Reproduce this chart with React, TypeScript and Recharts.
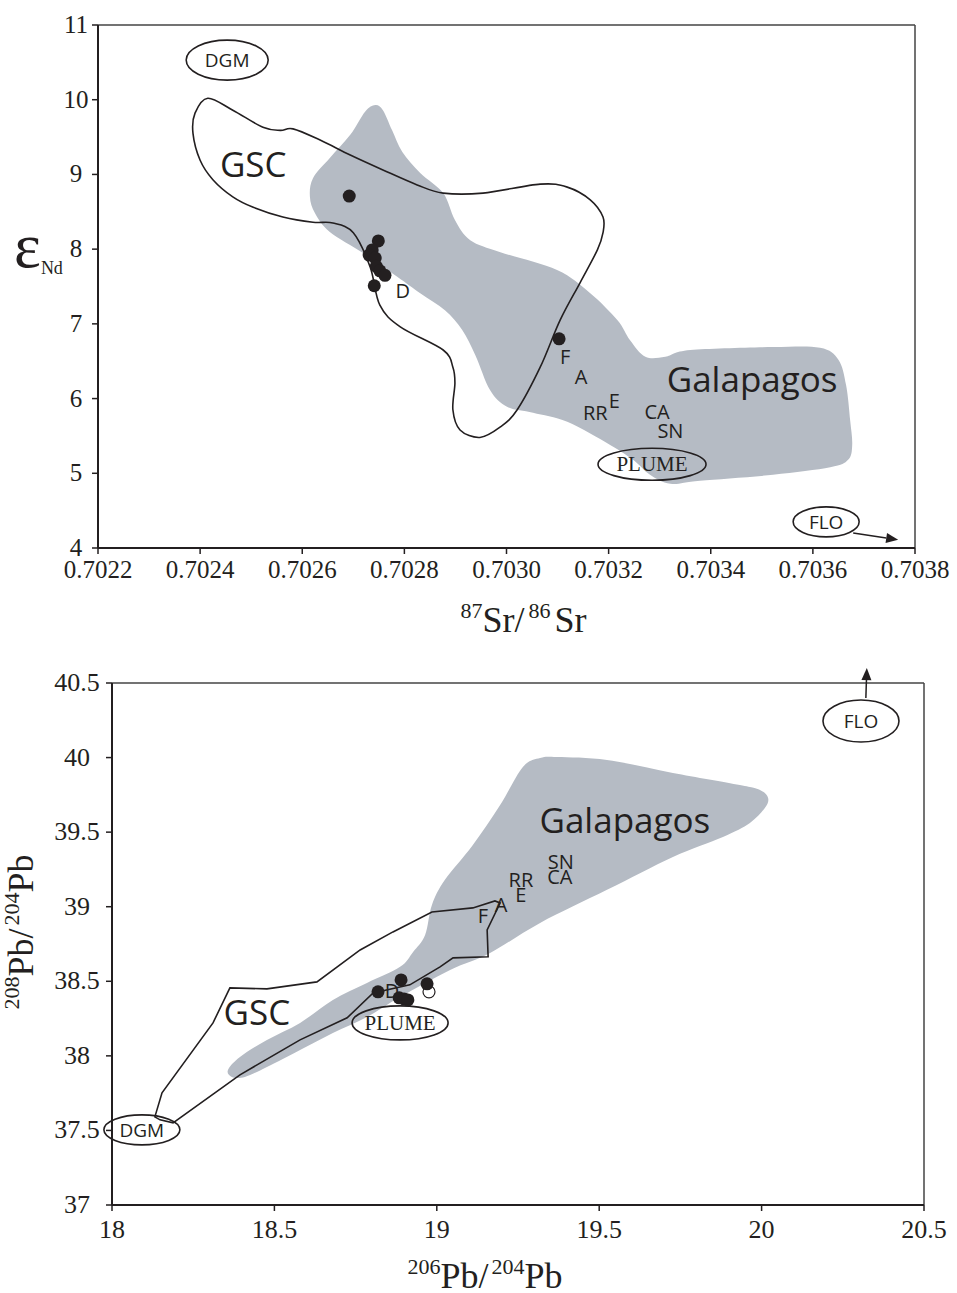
import { ReferenceLine, Scatter, ScatterChart, XAxis, YAxis } from 'recharts';

type Pt = { x: number; y: number };
type Tag = Pt & { text: string };

// ---------- upper panel: eNd vs 87Sr/86Sr ----------
const srTicks = [0.7022, 0.7024, 0.7026, 0.7028, 0.703, 0.7032, 0.7034, 0.7036, 0.7038];
const ndTicks = [4, 5, 6, 7, 8, 9, 10, 11];

const galapagosSrNd: Pt[] = [
  { x: 0.702743, y: 9.93 }, { x: 0.702758, y: 9.86 }, { x: 0.702776, y: 9.59 }, { x: 0.702796, y: 9.3 },
  { x: 0.702831, y: 9.02 }, { x: 0.702876, y: 8.75 }, { x: 0.702899, y: 8.39 }, { x: 0.702929, y: 8.12 },
  { x: 0.702988, y: 7.96 }, { x: 0.703099, y: 7.72 }, { x: 0.703164, y: 7.41 }, { x: 0.703217, y: 7.05 },
  { x: 0.703242, y: 6.78 }, { x: 0.703272, y: 6.56 }, { x: 0.703311, y: 6.56 }, { x: 0.70336, y: 6.65 },
  { x: 0.703522, y: 6.69 }, { x: 0.703614, y: 6.68 }, { x: 0.70365, y: 6.52 }, { x: 0.703665, y: 6.18 },
  { x: 0.703673, y: 5.71 }, { x: 0.703677, y: 5.38 }, { x: 0.703669, y: 5.18 }, { x: 0.703634, y: 5.08 },
  { x: 0.703522, y: 4.98 }, { x: 0.703379, y: 4.9 }, { x: 0.703321, y: 4.86 }, { x: 0.703281, y: 4.98 },
  { x: 0.703248, y: 5.18 }, { x: 0.703203, y: 5.38 }, { x: 0.703119, y: 5.69 }, { x: 0.703052, y: 5.81 },
  { x: 0.703001, y: 5.89 }, { x: 0.702968, y: 6.11 }, { x: 0.702939, y: 6.58 }, { x: 0.702913, y: 6.92 },
  { x: 0.70288, y: 7.18 }, { x: 0.702831, y: 7.41 }, { x: 0.702786, y: 7.63 }, { x: 0.702719, y: 7.95 },
  { x: 0.702654, y: 8.23 }, { x: 0.702625, y: 8.48 }, { x: 0.702615, y: 8.7 }, { x: 0.702621, y: 8.95 },
  { x: 0.702654, y: 9.22 }, { x: 0.702694, y: 9.53 }, { x: 0.702723, y: 9.84 },
];

const gscSrNd: Pt[] = [
  { x: 0.702415, y: 10.02 }, { x: 0.702464, y: 9.86 }, { x: 0.702523, y: 9.63 }, { x: 0.702557, y: 9.59 },
  { x: 0.702582, y: 9.61 }, { x: 0.702635, y: 9.46 }, { x: 0.702694, y: 9.26 }, { x: 0.702758, y: 9.06 },
  { x: 0.702825, y: 8.86 }, { x: 0.702876, y: 8.75 }, { x: 0.702954, y: 8.75 }, { x: 0.703066, y: 8.87 },
  { x: 0.703119, y: 8.83 }, { x: 0.703164, y: 8.66 }, { x: 0.703189, y: 8.43 }, { x: 0.703189, y: 8.22 },
  { x: 0.703178, y: 7.99 }, { x: 0.703144, y: 7.55 }, { x: 0.703105, y: 7.05 }, { x: 0.703066, y: 6.42 },
  { x: 0.703021, y: 5.85 }, { x: 0.702988, y: 5.62 }, { x: 0.702948, y: 5.48 }, { x: 0.702909, y: 5.58 },
  { x: 0.702895, y: 5.85 }, { x: 0.702899, y: 6.21 }, { x: 0.702895, y: 6.42 }, { x: 0.702876, y: 6.65 },
  { x: 0.702792, y: 6.96 }, { x: 0.702752, y: 7.25 }, { x: 0.702733, y: 7.76 }, { x: 0.7027, y: 8.22 },
  { x: 0.70266, y: 8.35 }, { x: 0.702621, y: 8.36 }, { x: 0.702562, y: 8.43 }, { x: 0.702504, y: 8.56 },
  { x: 0.702464, y: 8.7 }, { x: 0.702425, y: 8.93 }, { x: 0.7024, y: 9.19 }, { x: 0.702386, y: 9.55 },
  { x: 0.70239, y: 9.82 },
];

const samplesSrNd: Pt[] = [
  { x: 0.702692, y: 8.71 }, { x: 0.702749, y: 8.11 }, { x: 0.702737, y: 7.99 }, { x: 0.702731, y: 7.92 },
  { x: 0.702743, y: 7.88 }, { x: 0.702745, y: 7.77 }, { x: 0.702752, y: 7.71 }, { x: 0.702762, y: 7.65 },
  { x: 0.702741, y: 7.51 }, { x: 0.703103, y: 6.8 },
];

const regionNamesSrNd: Tag[] = [
  { x: 0.702504, y: 9.15, text: 'GSC' },
  { x: 0.703481, y: 6.27, text: 'Galapagos' },
];

const siteNamesSrNd: Tag[] = [
  { x: 0.702797, y: 7.45, text: 'D' },
  { x: 0.703115, y: 6.56, text: 'F' },
  { x: 0.703146, y: 6.3, text: 'A' },
  { x: 0.703174, y: 5.82, text: 'RR' },
  { x: 0.703211, y: 5.97, text: 'E' },
  { x: 0.703295, y: 5.83, text: 'CA' },
  { x: 0.703321, y: 5.57, text: 'SN' },
];

const endMembersSrNd: Tag[] = [
  { x: 0.702453, y: 10.53, text: 'DGM' },
  { x: 0.703285, y: 5.12, text: 'PLUME' },
  { x: 0.703626, y: 4.35, text: 'FLO' },
];

const floArrowSrNd: Pt[] = [{ x: 0.703679, y: 4.2 }, { x: 0.703767, y: 4.11 }];

// ---------- lower panel: 208Pb/204Pb vs 206Pb/204Pb ----------
const pb206Ticks = [18, 18.5, 19, 19.5, 20, 20.5];
const pb208Ticks = [37, 37.5, 38, 38.5, 39, 39.5, 40, 40.5];

const galapagosPb: Pt[] = [
  { x: 18.357, y: 37.906 }, { x: 18.394, y: 37.993 }, { x: 18.477, y: 38.107 }, { x: 18.579, y: 38.221 },
  { x: 18.68, y: 38.375 }, { x: 18.785, y: 38.489 }, { x: 18.887, y: 38.597 }, { x: 18.927, y: 38.697 },
  { x: 18.964, y: 38.811 }, { x: 18.985, y: 39.012 }, { x: 19.025, y: 39.18 }, { x: 19.111, y: 39.414 },
  { x: 19.195, y: 39.682 }, { x: 19.265, y: 39.937 }, { x: 19.318, y: 39.997 }, { x: 19.37, y: 40.004 },
  { x: 19.524, y: 39.984 }, { x: 19.727, y: 39.897 }, { x: 19.933, y: 39.816 }, { x: 19.995, y: 39.783 },
  { x: 20.02, y: 39.729 }, { x: 20.01, y: 39.662 }, { x: 19.964, y: 39.562 }, { x: 19.881, y: 39.468 },
  { x: 19.727, y: 39.334 }, { x: 19.524, y: 39.113 }, { x: 19.318, y: 38.891 }, { x: 19.164, y: 38.69 },
  { x: 19.041, y: 38.576 }, { x: 18.887, y: 38.395 }, { x: 18.785, y: 38.261 }, { x: 18.68, y: 38.154 },
  { x: 18.579, y: 38.04 }, { x: 18.477, y: 37.926 }, { x: 18.409, y: 37.859 }, { x: 18.369, y: 37.859 },
];

const gscPb: Pt[] = [
  { x: 18.132, y: 37.591 }, { x: 18.154, y: 37.752 }, { x: 18.311, y: 38.221 }, { x: 18.363, y: 38.456 },
  { x: 18.477, y: 38.449 }, { x: 18.631, y: 38.496 }, { x: 18.764, y: 38.71 }, { x: 18.865, y: 38.831 },
  { x: 18.985, y: 38.965 }, { x: 19.111, y: 38.992 }, { x: 19.179, y: 39.039 }, { x: 19.195, y: 39.025 },
  { x: 19.155, y: 38.845 }, { x: 19.158, y: 38.664 }, { x: 19.05, y: 38.657 }, { x: 19.01, y: 38.597 },
  { x: 18.917, y: 38.476 }, { x: 18.804, y: 38.422 }, { x: 18.724, y: 38.255 }, { x: 18.579, y: 38.107 },
  { x: 18.394, y: 37.873 }, { x: 18.188, y: 37.551 }, { x: 18.148, y: 37.571 },
];

const samplesPb: Pt[] = [
  { x: 18.819, y: 38.429 }, { x: 18.89, y: 38.509 }, { x: 18.97, y: 38.483 },
  { x: 18.884, y: 38.389 }, { x: 18.899, y: 38.382 }, { x: 18.911, y: 38.375 },
];
const openSamplesPb: Pt[] = [{ x: 18.976, y: 38.429 }];

const regionNamesPb: Tag[] = [
  { x: 18.446, y: 38.295, text: 'GSC' },
  { x: 19.579, y: 39.582, text: 'Galapagos' },
];

const siteNamesPb: Tag[] = [
  { x: 18.862, y: 38.436, text: 'D' },
  { x: 19.142, y: 38.938, text: 'F' },
  { x: 19.198, y: 39.012, text: 'A' },
  { x: 19.259, y: 39.18, text: 'RR' },
  { x: 19.259, y: 39.079, text: 'E' },
  { x: 19.379, y: 39.2, text: 'CA' },
  { x: 19.382, y: 39.3, text: 'SN' },
];

const endMembersPb: Tag[] = [
  { x: 18.092, y: 37.504, text: 'DGM' },
  { x: 18.887, y: 38.221, text: 'PLUME' },
  { x: 20.306, y: 40.245, text: 'FLO' },
];

const floArrowPb: Pt[] = [{ x: 20.321, y: 40.4 }, { x: 20.324, y: 40.6 }];

// ---------- styling ----------
const INK = '#231f20';
const GREY = '#b5bbc4';
const SERIF = "'Liberation Serif', 'Times New Roman', serif";
const SANS = "'Open Sans', 'Noto Sans', sans-serif";

const ellipseSizeTop: Record<string, [number, number]> = { DGM: [41, 20], PLUME: [54, 16], FLO: [33, 15] };
const ellipseSizeBottom: Record<string, [number, number]> = { DGM: [38, 15], PLUME: [48, 17], FLO: [38, 21] };

function closedSmooth(pts: { x: number; y: number }[]) {
  const n = pts.length;
  let d = `M${pts[0].x},${pts[0].y}`;
  for (let i = 0; i < n; i++) {
    const p0 = pts[(i - 1 + n) % n];
    const p1 = pts[i];
    const p2 = pts[(i + 1) % n];
    const p3 = pts[(i + 2) % n];
    const c1x = p1.x + (p2.x - p0.x) / 6;
    const c1y = p1.y + (p2.y - p0.y) / 6;
    const c2x = p2.x - (p3.x - p1.x) / 6;
    const c2y = p2.y - (p3.y - p1.y) / 6;
    d += `C${c1x},${c1y} ${c2x},${c2y} ${p2.x},${p2.y}`;
  }
  return d + 'Z';
}

function closedLinear(pts: { x: number; y: number }[]) {
  return 'M' + pts.map((p) => `${p.x},${p.y}`).join('L') + 'Z';
}

const noMark = () => <g />;

const greyArea = (lp: any) => <path d={closedSmooth(lp.points)} fill={GREY} stroke="none" />;
const smoothOutline = (lp: any) => (
  <path d={closedSmooth(lp.points)} fill="none" stroke={INK} strokeWidth={1.6} />
);
const angularOutline = (lp: any) => (
  <path d={closedLinear(lp.points)} fill="none" stroke={INK} strokeWidth={1.6} strokeLinejoin="miter" />
);

const dot = (r: number) => (p: any) => <circle cx={p.cx} cy={p.cy} r={r} fill={INK} />;
const ring = (r: number) => (p: any) => (
  <circle cx={p.cx} cy={p.cy} r={r} fill="#fff" stroke={INK} strokeWidth={1.2} />
);

const textMark = (size: number) => (p: any) => (
  <text
    x={p.cx}
    y={p.cy}
    textAnchor="middle"
    dominantBaseline="central"
    style={{ fontFamily: SANS, fontSize: size }}
    fill={INK}
  >
    {p.payload?.text ?? p.text}
  </text>
);

const endMemberMark = (sizes: Record<string, [number, number]>) => (p: any) => {
  const name = p.payload?.text ?? p.text;
  const [rx, ry] = sizes[name];
  const serif = name === 'PLUME';
  return (
    <g>
      <ellipse cx={p.cx} cy={p.cy} rx={rx} ry={ry} fill="none" stroke={INK} strokeWidth={1.6} />
      <text
        x={p.cx}
        y={p.cy}
        textAnchor="middle"
        dominantBaseline="central"
        style={{ fontFamily: serif ? SERIF : SANS, fontSize: serif ? 21 : 19 }}
        fill={INK}
      >
        {name}
      </text>
    </g>
  );
};

const arrowShape = (p: any) => {
  const { x1, y1, x2, y2 } = p;
  const len = Math.hypot(x2 - x1, y2 - y1) || 1;
  const ux = (x2 - x1) / len;
  const uy = (y2 - y1) / len;
  const head = 12;
  const half = 5;
  const bx = x2 - ux * head;
  const by = y2 - uy * head;
  return (
    <g>
      <line x1={x1} y1={y1} x2={bx} y2={by} stroke={INK} strokeWidth={1.5} />
      <polygon
        points={`${x2},${y2} ${bx - uy * half},${by + ux * half} ${bx + uy * half},${by - ux * half}`}
        fill={INK}
      />
    </g>
  );
};

const xTick = (dy: number, size: number, fmt: (v: number) => string) => (p: any) => (
  <text x={p.x} y={p.y} dy={dy} textAnchor="middle" style={{ fontFamily: SERIF, fontSize: size }} fill={INK}>
    {fmt(p.payload.value)}
  </text>
);

const yTick = (dx: number, size: number, fmt: (v: number) => string) => (p: any) => (
  <text x={p.x + dx} y={p.y} dy={8} textAnchor="middle" style={{ fontFamily: SERIF, fontSize: size }} fill={INK}>
    {fmt(p.payload.value)}
  </text>
);

const axisLine = { stroke: INK, strokeWidth: 2 };
const tickLine = { stroke: INK, strokeWidth: 1.5 };

function SrNdChart() {
  return (
    <ScatterChart width={957} height={640} margin={{ top: 25, right: 42, bottom: 62, left: 58 }}>
      <XAxis
        type="number"
        dataKey="x"
        domain={[0.7022, 0.7038]}
        ticks={srTicks}
        height={30}
        tickSize={6}
        tickMargin={4}
        axisLine={axisLine}
        tickLine={tickLine}
        tick={xTick(20, 25, (v) => v.toFixed(4))}
        label={{
          content: (lp: any) => {
            const vb = lp.viewBox;
            return (
              <text x={vb.x + vb.width / 2 + 17} y={vb.y + 84} textAnchor="middle" style={{ fontFamily: SERIF }} fill={INK}>
                <tspan fontSize={22} dy={-14}>87</tspan>
                <tspan fontSize={36} dy={14}>Sr/</tspan>
                <tspan fontSize={22} dy={-14} dx={4}>86</tspan>
                <tspan fontSize={36} dy={14} dx={4}>Sr</tspan>
              </text>
            );
          },
        }}
      />
      <YAxis
        type="number"
        dataKey="y"
        domain={[4, 11]}
        ticks={ndTicks}
        width={40}
        tickSize={6}
        axisLine={axisLine}
        tickLine={tickLine}
        tick={yTick(-14, 25, (v) => String(v))}
        label={{
          content: (lp: any) => {
            const vb = lp.viewBox;
            return (
              <text x={vb.x - 44} y={vb.y + 242} style={{ fontFamily: SERIF }} fill={INK}>
                <tspan fontSize={64}>ε</tspan>
                <tspan fontSize={18} dy={7}>Nd</tspan>
              </text>
            );
          },
        }}
      />
      <ReferenceLine y={11} stroke="#444" strokeWidth={1.5} />
      <ReferenceLine x={0.7038} stroke="#444" strokeWidth={1.5} />

      <Scatter data={galapagosSrNd} line={greyArea} lineType="joint" shape={noMark} isAnimationActive={false} />
      <Scatter data={gscSrNd} line={smoothOutline} lineType="joint" shape={noMark} isAnimationActive={false} />
      <Scatter data={endMembersSrNd} shape={endMemberMark(ellipseSizeTop)} isAnimationActive={false} />
      <Scatter data={regionNamesSrNd} shape={textMark(35)} isAnimationActive={false} />
      <Scatter data={siteNamesSrNd} shape={textMark(20)} isAnimationActive={false} />
      <Scatter data={samplesSrNd} shape={dot(6.5)} isAnimationActive={false} />
      <ReferenceLine segment={floArrowSrNd} ifOverflow="visible" stroke={INK} shape={arrowShape} />
    </ScatterChart>
  );
}

function PbPbChart() {
  return (
    <ScatterChart width={957} height={653} margin={{ top: 43, right: 33, bottom: 58, left: 72 }}>
      <XAxis
        type="number"
        dataKey="x"
        domain={[18, 20.5]}
        ticks={pb206Ticks}
        height={30}
        tickSize={6}
        tickMargin={4}
        axisLine={axisLine}
        tickLine={tickLine}
        tick={xTick(23, 26, (v) => String(v))}
        label={{
          content: (lp: any) => {
            const vb = lp.viewBox;
            return (
              <text x={vb.x + vb.width / 2 - 33} y={vb.y + 83} textAnchor="middle" style={{ fontFamily: SERIF }} fill={INK}>
                <tspan fontSize={22} dy={-14}>206</tspan>
                <tspan fontSize={36} dy={14}>Pb/</tspan>
                <tspan fontSize={22} dy={-14} dx={3}>204</tspan>
                <tspan fontSize={36} dy={14}>Pb</tspan>
              </text>
            );
          },
        }}
      />
      <YAxis
        type="number"
        dataKey="y"
        domain={[37, 40.5]}
        ticks={pb208Ticks}
        width={40}
        tickSize={6}
        axisLine={axisLine}
        tickLine={tickLine}
        tick={yTick(-27, 26, (v) => String(v))}
        label={{
          content: (lp: any) => {
            const vb = lp.viewBox;
            const cx = vb.x - 39;
            const cy = vb.y + 249;
            return (
              <text
                x={cx}
                y={cy}
                transform={`rotate(-90, ${cx}, ${cy})`}
                textAnchor="middle"
                style={{ fontFamily: SERIF }}
                fill={INK}
              >
                <tspan fontSize={22} dy={-14}>208</tspan>
                <tspan fontSize={36} dy={14}>Pb/</tspan>
                <tspan fontSize={22} dy={-14} dx={3}>204</tspan>
                <tspan fontSize={36} dy={14}>Pb</tspan>
              </text>
            );
          },
        }}
      />
      <ReferenceLine y={40.5} stroke="#444" strokeWidth={1.5} />
      <ReferenceLine x={20.5} stroke="#444" strokeWidth={1.5} />

      <Scatter data={galapagosPb} line={greyArea} lineType="joint" shape={noMark} isAnimationActive={false} />
      <Scatter data={gscPb} line={angularOutline} lineType="joint" shape={noMark} isAnimationActive={false} />
      <Scatter data={endMembersPb} shape={endMemberMark(ellipseSizeBottom)} isAnimationActive={false} />
      <Scatter data={regionNamesPb} shape={textMark(35)} isAnimationActive={false} />
      <Scatter data={siteNamesPb} shape={textMark(20)} isAnimationActive={false} />
      <Scatter data={openSamplesPb} shape={ring(6)} isAnimationActive={false} />
      <Scatter data={samplesPb} shape={dot(6.5)} isAnimationActive={false} />
      <ReferenceLine segment={floArrowPb} ifOverflow="visible" stroke={INK} shape={arrowShape} />
    </ScatterChart>
  );
}

export default function App() {
  return (
    <div style={{ position: 'absolute', left: 0, top: 0, width: 957, height: 1293, background: '#fff' }}>
      <SrNdChart />
      <PbPbChart />
    </div>
  );
}
